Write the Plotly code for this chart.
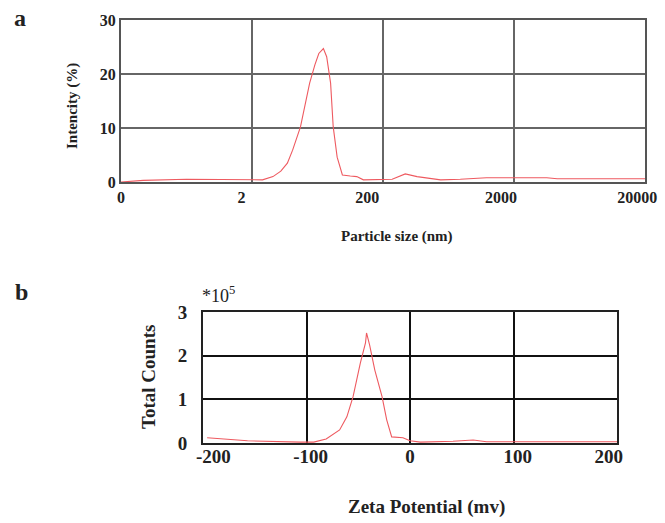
import plotly.graph_objects as go

# ---- Panel a: particle size distribution (x in tick-index units: 0,2,200,2000,20000) ----
size_pos = [0.0, 0.17, 0.5, 1.08, 1.16, 1.22, 1.27, 1.31, 1.37, 1.44, 1.48, 1.51, 1.545,
            1.57, 1.60, 1.62, 1.65, 1.69, 1.75, 1.80, 1.85, 2.0, 2.07, 2.17, 2.26, 2.44,
            2.59, 2.79, 3.25, 3.33, 4.0]
intensity = [0.0, 0.3, 0.5, 0.4, 1.0, 2.0, 3.5, 5.9, 10.2, 18.3, 21.7, 23.8, 24.7,
             23.2, 18.3, 10.2, 4.6, 1.3, 1.1, 1.0, 0.4, 0.4, 0.5, 1.5, 1.0, 0.4,
             0.5, 0.8, 0.8, 0.6, 0.6]
size_grid = [1, 2, 3]
size_label_pos = [0.0, 0.92, 1.88, 2.9, 3.94]
size_labels = ["0", "2", "200", "2000", "20000"]
int_ticks = [0, 10, 20, 30]

# ---- Panel b: zeta potential ----
zeta = [-196, -157, -106, -93, -81, -73, -68, -61, -55, -48, -43, -42, -39, -34, -27,
        -22.5, -17.7, -6.8, 0, 10, 41.5, 61, 74, 200]
counts = [0.12, 0.05, 0.02, 0.02, 0.09, 0.23, 0.30, 0.60, 1.06, 1.83, 2.29, 2.52, 2.24,
          1.67, 1.06, 0.53, 0.14, 0.12, 0.05, 0.02, 0.04, 0.07, 0.03, 0.03]
zeta_grid = [-100, 0, 100]
zeta_label_pos = [-190, -96, 0, 104, 192]
zeta_labels = ["-200", "-100", "0", "100", "200"]
count_ticks = [0, 1, 2, 3]

W, H = 665, 523
def px(x): return x / W
def py(y): return 1 - y / H

LINE = "#ee5a60"
SERIF = "Liberation Serif"

fig = go.Figure()
fig.add_trace(go.Scatter(x=size_pos, y=intensity, mode="lines",
                         line=dict(color=LINE, width=1.1), xaxis="x", yaxis="y",
                         showlegend=False, hoverinfo="skip"))
# invisible companions so the label axes (x3, x4) are drawn
fig.add_trace(go.Scatter(x=size_pos, y=intensity, mode="lines",
                         line=dict(color="rgba(0,0,0,0)", width=0), xaxis="x3", yaxis="y",
                         showlegend=False, hoverinfo="skip"))
fig.add_trace(go.Scatter(x=zeta, y=counts, mode="lines",
                         line=dict(color=LINE, width=1.1), xaxis="x2", yaxis="y2",
                         showlegend=False, hoverinfo="skip"))
fig.add_trace(go.Scatter(x=zeta, y=counts, mode="lines",
                         line=dict(color="rgba(0,0,0,0)", width=0), xaxis="x4", yaxis="y2",
                         showlegend=False, hoverinfo="skip"))

tickfont_a = dict(family=SERIF, size=16, color="#222", weight="bold")
tickfont_b = dict(family=SERIF, size=19, color="#222", weight="bold")

fig.update_layout(
    width=W, height=H, margin=dict(l=0, r=0, t=0, b=0),
    paper_bgcolor="white", plot_bgcolor="white",
    xaxis=dict(domain=[px(121), px(645)], range=[0, 4], anchor="y",
               tickmode="array", tickvals=size_grid, showticklabels=False,
               showgrid=True, gridcolor="#666", gridwidth=1.5,
               showline=True, mirror=True, linecolor="#555", linewidth=2,
               zeroline=False, ticks="", automargin=False),
    xaxis3=dict(overlaying="x", range=[0, 4], anchor="y",
                tickmode="array", tickvals=size_label_pos, ticktext=size_labels,
                showgrid=False, showline=False, zeroline=False, ticks="",
                tickfont=tickfont_a, side="bottom", automargin=False,
                ticklabelstandoff=4),
    yaxis=dict(domain=[py(182), py(20)], range=[0, 30], anchor="x",
               tickmode="array", tickvals=int_ticks,
               showgrid=True, gridcolor="#666", gridwidth=1.5,
               showline=True, mirror=True, linecolor="#555", linewidth=2,
               zeroline=False, ticks="", tickfont=tickfont_a, automargin=False),
    xaxis2=dict(domain=[px(203), px(617)], range=[-200, 200], anchor="y2",
                tickmode="array", tickvals=zeta_grid, showticklabels=False,
                showgrid=True, gridcolor="#111", gridwidth=1.5,
                showline=True, mirror=True, linecolor="#222", linewidth=2,
                zeroline=False, ticks="", automargin=False),
    xaxis4=dict(overlaying="x2", range=[-200, 200], anchor="y2",
                tickmode="array", tickvals=zeta_label_pos, ticktext=zeta_labels,
                showgrid=False, showline=False, zeroline=False, ticks="",
                tickfont=tickfont_b, side="bottom", automargin=False),
    yaxis2=dict(domain=[py(443), py(312)], range=[0, 3], anchor="x2",
                tickmode="array", tickvals=count_ticks,
                showgrid=True, gridcolor="#111", gridwidth=1.5,
                showline=True, mirror=True, linecolor="#222", linewidth=2,
                zeroline=False, ticks="", tickfont=tickfont_b, automargin=False,
                ticklabelstandoff=10),
)

def ann(text, x, y, size, angle=0, bold=True):
    fig.add_annotation(text=f"<b>{text}</b>" if bold else text,
                       x=px(x), y=py(y), xref="paper", yref="paper",
                       showarrow=False, textangle=angle,
                       font=dict(family=SERIF, size=size, color="#222"),
                       xanchor="center", yanchor="middle")

ann("a", 20, 18, 24)
ann("b", 22, 292, 24)
ann("Intencity (%)", 73, 106, 15, angle=-90)
ann("Particle size (nm)", 397, 237, 15)
ann("Total Counts", 148, 377, 19, angle=-90)
ann("Zeta Potential (mv)", 426, 507, 19)
ann("*10<sup>5</sup>", 218, 294, 18, bold=False)

fig.write_html("out.html", config={"displayModeBar": False},
               post_script="document.body.style.margin='0';document.body.style.overflow='hidden';")
